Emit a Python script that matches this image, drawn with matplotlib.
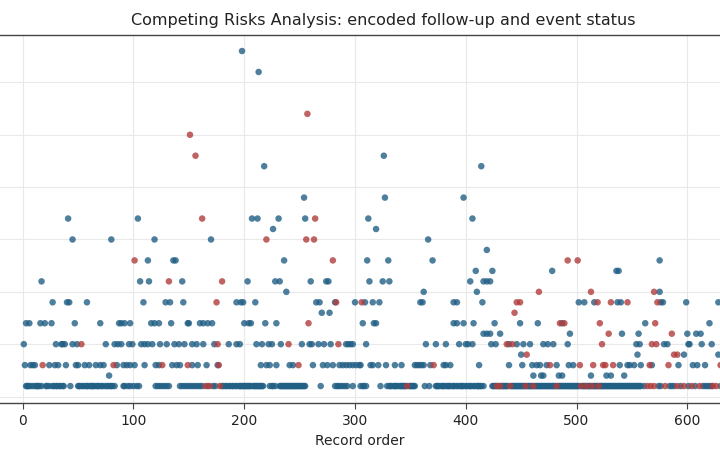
import numpy as np
import matplotlib.pyplot as plt

# records (x = record order) for each encoded value, status 0 (blue)
s0_v1 = [3, 4, 5, 6, 8, 10, 12, 13, 14, 15, 17, 21, 22, 24, 27, 28, 30, 31, 33, 34, 36, 37, 43,
         50, 51, 52, 54, 55, 57, 58, 59, 61, 62, 63, 64, 65, 67, 68, 69, 71, 72, 74, 76, 77, 79,
         80, 81, 83, 91, 92, 95, 97, 100, 103, 105, 120, 122, 124, 126, 128, 130, 132,
         142, 144, 146, 148, 150, 152, 154, 156, 158, 160, 162, 167, 172, 174,
         180, 181, 183, 184, 186, 187, 189, 190, 192, 193, 195, 196, 197, 198, 199, 200, 201,
         202, 203, 204, 205, 206, 208, 209, 210, 211, 212, 213, 214, 215, 216, 217,
         223, 225, 226, 228, 232, 233, 234, 235, 236, 237, 238, 239, 240, 241, 242, 243, 244,
         245, 246, 247, 248, 249, 250, 251, 252, 253, 254, 255, 269,
         282, 284, 285, 287, 289, 291, 293, 298, 305, 307, 308, 310, 323,
         329, 331, 332, 333, 335, 336, 337, 338, 340, 341, 342, 343, 344, 345, 346, 349, 350,
         351, 352, 353, 354, 363, 367,
         373, 374, 375, 376, 378, 379, 380, 381, 383, 384, 385, 386, 388, 389, 390, 392, 393,
         395, 396, 397, 398, 400, 401, 403, 404, 405, 407, 408, 410, 411, 412, 413, 414, 416,
         424, 425, 426, 427, 429, 430, 432, 433, 434, 435, 436, 437, 438, 441, 442, 443, 444,
         445, 446, 447, 448, 449, 450, 451, 452, 453, 455, 456, 457, 458, 459, 460, 462, 463,
         464, 465, 466, 467, 468, 469, 470, 471, 472, 473, 474, 475, 476, 477, 478, 479, 480,
         481, 483, 484, 485, 486, 487, 488, 489, 490, 491, 492, 493, 494, 495, 496, 497, 498,
         499, 500, 501, 502, 505, 506, 507, 508, 510, 511, 512, 513, 515, 516, 517, 518, 519,
         521, 522, 523, 524, 525, 526, 527, 528, 529, 530, 531, 532, 533, 534, 535, 536, 537,
         538, 539, 540, 541, 542, 543, 544, 545, 546, 547, 548, 549, 550, 551, 552, 553, 554,
         555, 556, 557, 558, 561, 574, 576, 584, 586, 588, 594, 601, 607, 614, 616, 618, 620,
         622, 630]
s0_v2 = [78, 461, 468, 470, 484, 487, 513, 527, 531, 543]
s0_v3 = [2, 7, 9, 11, 24, 29, 32, 39, 48, 50, 56, 60, 66, 70, 73, 85, 91, 94, 97, 101, 110,
         120, 123, 135, 139, 142, 153, 158, 166, 176, 215, 220, 223, 229, 241, 244, 262, 271,
         275, 280, 286, 289, 292, 295, 298, 301, 304, 305, 314, 316, 321, 328, 336, 342, 354,
         356, 358, 360, 362, 368, 380, 382, 386, 412, 439, 451, 460, 464, 467, 473, 482, 493,
         497, 539, 546, 548, 552, 558, 568, 592, 605, 609, 616]
s0_v4 = [450, 555, 597, 628]
s0_v5 = [1, 30, 35, 36, 38, 45, 49, 75, 83, 86, 89, 96, 99, 107, 110, 113, 117, 124, 130,
         137, 141, 146, 153, 157, 163, 173, 186, 193, 196, 211, 216, 222, 225, 233, 252, 259,
         261, 267, 272, 278, 292, 294, 296, 298, 310, 364, 373, 382, 394, 400, 402, 406, 423,
         427, 439, 446, 452, 458, 470, 474, 479, 492, 554, 557, 579, 582, 601, 602, 613, 622]
s0_v6 = [416, 419, 422, 431, 494, 541, 556, 600, 608, 612]
s0_v7 = [3, 6, 16, 20, 26, 47, 70, 87, 89, 92, 97, 116, 119, 123, 134, 149, 150, 160, 163,
         167, 171, 200, 204, 206, 219, 229, 307, 317, 319, 389, 392, 398, 407, 426, 449, 465,
         487, 562, 620]
s0_v8 = [270, 277]
s0_v9 = [27, 40, 42, 58, 109, 129, 133, 145, 193, 197, 199, 210, 265, 268, 282, 300, 309,
         316, 322, 359, 361, 389, 392, 415, 502, 507, 516, 537, 540, 576, 578, 599, 628]
s0_v10 = [238, 362, 410, 575]
s0_v11 = [17, 106, 114, 144, 203, 228, 232, 260, 274, 276, 313, 325, 331, 404, 416, 419, 422]
s0_v12 = [409, 424, 478, 536, 538]
s0_v13 = [113, 136, 138, 236, 311, 330, 370, 575]
s0_v14 = [419]
s0_v15 = [45, 80, 119, 170, 366]
s0_v16 = [226, 319]
s0_v17 = [41, 104, 207, 212, 231, 255, 312, 406]
s0_v19 = [254, 327, 398]
s0_v22 = [218, 414]
s0_v23 = [326]
s0_v31 = [213]
s0_v33 = [198]

# status 1 (red)
s1_v1 = [165, 169, 178, 347, 428, 431, 440, 454, 461, 482, 504, 509, 514, 520, 564, 567,
         570, 580, 591, 597, 604, 611, 623, 626]
s1_v3 = [18, 82, 126, 149, 177, 249, 371, 476, 503, 515, 524, 526, 533, 566, 583, 630]
s1_v4 = [455, 588, 591]
s1_v5 = [53, 176, 240, 285, 437, 442, 523, 568, 572]
s1_v6 = [529, 586]
s1_v7 = [258, 485, 489, 521, 571]
s1_v8 = [444]
s1_v9 = [175, 283, 306, 446, 449, 519, 531, 546, 573]
s1_v10 = [466, 513, 570]
s1_v11 = [132, 180]
s1_v13 = [101, 280, 492, 501]
s1_v15 = [220, 256, 263]
s1_v17 = [162, 264]
s1_v23 = [156]
s1_v25 = [151]
s1_v27 = [257]

status0 = {1: s0_v1, 2: s0_v2, 3: s0_v3, 4: s0_v4, 5: s0_v5, 6: s0_v6, 7: s0_v7,
           8: s0_v8, 9: s0_v9, 10: s0_v10, 11: s0_v11, 12: s0_v12, 13: s0_v13,
           14: s0_v14, 15: s0_v15, 16: s0_v16, 17: s0_v17, 19: s0_v19, 22: s0_v22,
           23: s0_v23, 31: s0_v31, 33: s0_v33}
status1 = {1: s1_v1, 3: s1_v3, 4: s1_v4, 5: s1_v5, 6: s1_v6, 7: s1_v7, 8: s1_v8,
           9: s1_v9, 10: s1_v10, 11: s1_v11, 13: s1_v13, 15: s1_v15, 17: s1_v17,
           23: s1_v23, 25: s1_v25, 27: s1_v27}


def to_xy(rows):
    xs, ys = [], []
    for v, recs in rows.items():
        xs += recs
        ys += [v] * len(recs)
    return np.array(xs), np.array(ys)


x0, y0 = to_xy(status0)
x1, y1 = to_xy(status1)

fig = plt.figure(figsize=(7.2, 4.6), dpi=100)
ax = fig.add_axes([0, 0.1217, 1, 0.8007])

ax.scatter(x0, y0, s=22, color="#225f85", alpha=0.8, edgecolor="none", zorder=3)
ax.scatter(x1, y1, s=22, color="#b03c3c", alpha=0.8, edgecolor="none", zorder=3)

ax.set_xlim(-20.5, 629.5)
ax.set_ylim(-0.62, 34.56)
ax.set_xticks(range(0, 700, 100))
ax.set_yticks(range(0, 35, 5))
ax.set_yticklabels([])
ax.tick_params(axis="y", length=0)
ax.tick_params(axis="x", length=4, color="#444444", labelsize=10, labelcolor="#222222")
ax.grid(True, color="#e9e9e9", linewidth=0.8, zorder=0)
ax.set_axisbelow(True)

for side in ["left", "right"]:
    ax.spines[side].set_visible(False)
for side in ["top", "bottom"]:
    ax.spines[side].set_color("#444444")
    ax.spines[side].set_linewidth(1.0)

ax.set_xlabel("Record order", fontsize=10, color="#222222")
ax.set_title("Competing Risks Analysis: encoded follow-up and event status",
             fontsize=11.5, x=0.532, pad=8, color="#222222")

fig.savefig("out.png", dpi=100)
